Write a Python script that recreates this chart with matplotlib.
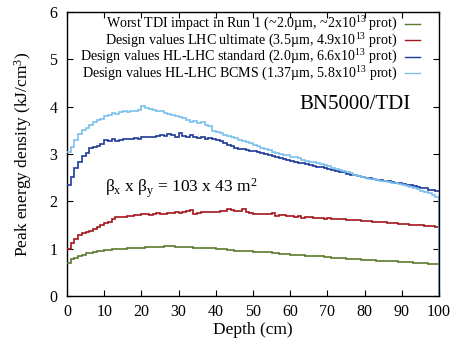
import numpy as np
import matplotlib
matplotlib.use('Agg')
import matplotlib.pyplot as plt
from matplotlib.lines import Line2D

# 1 cm bins along the TDI block
depth_edges = list(range(0, 101))

# Worst TDI impact in Run 1
e_run1 = [0.70, 0.78, 0.80, 0.84, 0.87, 0.90, 0.91, 0.94, 0.95, 0.96,
          0.97, 0.98, 0.99, 0.99, 1.00, 1.00, 1.01, 1.01, 1.01, 1.02,
          1.02, 1.03, 1.03, 1.04, 1.03, 1.04, 1.05, 1.06, 1.05, 1.03,
          1.03, 1.04, 1.04, 1.03, 1.02, 1.02, 1.01, 1.01, 1.02, 1.01,
          1.00, 0.99, 0.99, 0.98, 0.97, 0.96, 0.96, 0.96, 0.95, 0.95,
          0.94, 0.93, 0.93, 0.92, 0.92, 0.90, 0.90, 0.89, 0.88, 0.88,
          0.87, 0.87, 0.86, 0.86, 0.85, 0.85, 0.84, 0.84, 0.84, 0.83,
          0.82, 0.81, 0.81, 0.80, 0.80, 0.79, 0.79, 0.78, 0.78, 0.77,
          0.77, 0.76, 0.76, 0.75, 0.75, 0.74, 0.74, 0.73, 0.73, 0.72,
          0.72, 0.71, 0.71, 0.70, 0.70, 0.69, 0.69, 0.68, 0.68, 0.67]

# LHC ultimate
e_ult = [1.00, 1.12, 1.20, 1.28, 1.33, 1.36, 1.38, 1.42, 1.46, 1.50,
         1.54, 1.57, 1.63, 1.66, 1.68, 1.68, 1.69, 1.70, 1.71, 1.71,
         1.73, 1.74, 1.72, 1.73, 1.76, 1.74, 1.74, 1.76, 1.76, 1.77,
         1.76, 1.77, 1.80, 1.81, 1.74, 1.76, 1.77, 1.77, 1.77, 1.78,
         1.78, 1.80, 1.80, 1.83, 1.82, 1.79, 1.80, 1.83, 1.77, 1.76,
         1.74, 1.73, 1.73, 1.73, 1.74, 1.75, 1.69, 1.71, 1.71, 1.70,
         1.69, 1.68, 1.70, 1.65, 1.66, 1.66, 1.64, 1.64, 1.64, 1.63,
         1.64, 1.62, 1.63, 1.63, 1.62, 1.61, 1.61, 1.60, 1.60, 1.59,
         1.59, 1.58, 1.57, 1.57, 1.56, 1.56, 1.55, 1.54, 1.54, 1.53,
         1.53, 1.52, 1.51, 1.50, 1.50, 1.49, 1.48, 1.48, 1.47, 1.46]

# HL-LHC standard
e_std = [2.35, 2.52, 2.70, 2.84, 2.95, 3.02, 3.13, 3.15, 3.18, 3.22,
         3.30, 3.28, 3.32, 3.27, 3.30, 3.31, 3.32, 3.31, 3.33, 3.32,
         3.35, 3.36, 3.37, 3.36, 3.38, 3.40, 3.38, 3.42, 3.40, 3.36,
         3.44, 3.38, 3.36, 3.40, 3.35, 3.33, 3.36, 3.32, 3.33, 3.31,
         3.30, 3.28, 3.24, 3.20, 3.16, 3.13, 3.10, 3.10, 3.08, 3.07,
         3.06, 3.04, 3.02, 3.00, 2.99, 2.96, 2.94, 2.92, 2.89, 2.88,
         2.86, 2.84, 2.82, 2.81, 2.79, 2.77, 2.75, 2.73, 2.72, 2.70,
         2.68, 2.66, 2.65, 2.63, 2.62, 2.58, 2.56, 2.55, 2.53, 2.52,
         2.50, 2.49, 2.47, 2.46, 2.45, 2.44, 2.42, 2.41, 2.39, 2.38,
         2.37, 2.35, 2.34, 2.32, 2.31, 2.29, 2.28, 2.25, 2.23, 2.21]

# HL-LHC BCMS
e_bcms = [3.05, 3.15, 3.30, 3.42, 3.50, 3.55, 3.62, 3.68, 3.72, 3.75,
          3.80, 3.82, 3.86, 3.85, 3.88, 3.90, 3.89, 3.91, 3.92, 3.94,
          4.02, 3.98, 3.95, 3.94, 3.90, 3.90, 3.87, 3.85, 3.82, 3.80,
          3.78, 3.76, 3.72, 3.68, 3.70, 3.66, 3.68, 3.62, 3.60, 3.48,
          3.47, 3.44, 3.40, 3.38, 3.37, 3.33, 3.30, 3.28, 3.26, 3.23,
          3.20, 3.16, 3.13, 3.10, 3.08, 3.05, 3.03, 3.00, 2.98, 2.97,
          2.94, 2.93, 2.91, 2.88, 2.86, 2.84, 2.83, 2.81, 2.78, 2.76,
          2.74, 2.71, 2.68, 2.66, 2.64, 2.61, 2.59, 2.56, 2.54, 2.52,
          2.50, 2.48, 2.47, 2.45, 2.43, 2.42, 2.41, 2.39, 2.38, 2.36,
          2.35, 2.33, 2.31, 2.29, 2.26, 2.22, 2.20, 2.17, 2.14, 2.10]

labels = ['Worst TDI impact in Run 1 (~2.0\u00b5m, ~2x10$^{13}$ prot)',
          'Design values LHC ultimate (3.5\u00b5m, 4.9x10$^{13}$ prot)',
          'Design values HL-LHC standard (2.0\u00b5m, 6.6x10$^{13}$ prot)',
          'Design values HL-LHC BCMS (1.37\u00b5m, 5.8x10$^{13}$ prot)']
colors = ['#5b7a2c', '#a3151c', '#1c3a96', '#7cc0ef']
series = [e_run1, e_ult, e_std, e_bcms]

plt.rcParams['font.family'] = ['Liberation Serif', 'DejaVu Serif']
plt.rcParams['mathtext.fontset'] = 'custom'
plt.rcParams['mathtext.rm'] = 'Liberation Serif'
plt.rcParams['mathtext.it'] = 'Liberation Serif'

fig = plt.figure(figsize=(4.57, 3.45), dpi=100)
ax = fig.add_axes([0.1466, 0.142, 0.814, 0.823])

for vals, c in zip(series, colors):
    ax.stairs(vals, depth_edges, color=c, lw=1.2, baseline=None, zorder=3)
# drop to zero at the end of the block
ax.plot([depth_edges[-1]] * 2, [e_bcms[-1], 0], color='#5a8fd0', lw=1.4, zorder=3)

ax.set_xlim(0, 100); ax.set_ylim(0, 6)
ax.set_xticks(range(0, 101, 10)); ax.set_yticks(range(0, 7))
ax.tick_params(direction='in', top=True, right=True, length=4, width=0.8, labelsize=11.5)
ax.tick_params(axis='x', pad=6); ax.tick_params(axis='y', pad=7)
for s in ax.spines.values(): s.set_linewidth(1.0)
ax.set_xlabel('Depth (cm)', fontsize=12.5, labelpad=1)
ax.set_ylabel('Peak energy density (kJ/cm$^3$)', fontsize=12.5, labelpad=11)

# gnuplot-style key: right-aligned text, sample line to the right
for i, (lab, c) in enumerate(zip(labels, colors)):
    yk = 0.958 - 0.058 * i
    ax.text(0.888, yk, lab, transform=ax.transAxes, ha='right', va='center', fontsize=10.1)
    ax.add_line(Line2D([0.908, 0.948], [yk, yk], transform=ax.transAxes, color=c, lw=1.0))

ax.text(92.5, 4.05, 'BN5000/TDI', ha='right', va='center', fontsize=15)
ax.text(10.2, 2.27, r'$\beta_{\rm x}$ x $\beta_{\rm y}$ = 103 x 43 m$^2$', ha='left', va='center', fontsize=12.5)

fig.savefig('out.png', dpi=100)
